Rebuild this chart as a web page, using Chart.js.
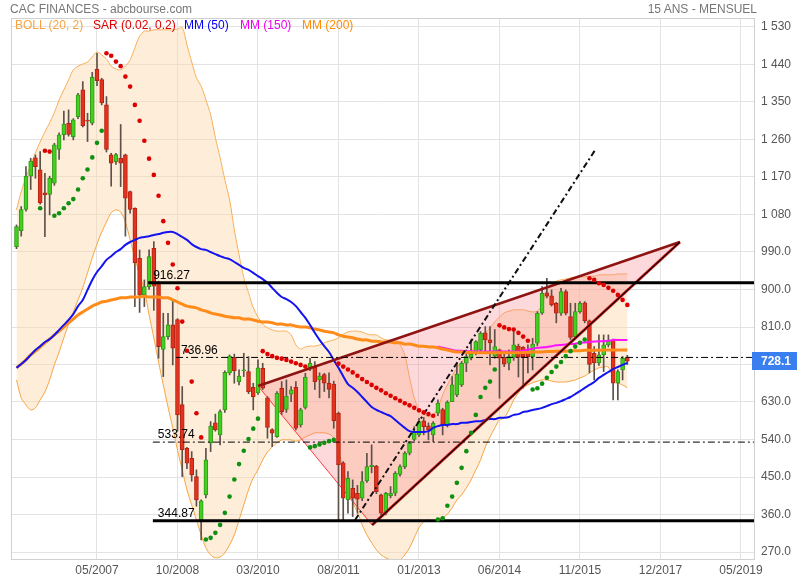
<!DOCTYPE html>
<html><head><meta charset="utf-8">
<script src="https://cdn.jsdelivr.net/npm/chart.js@4.4.1/dist/chart.umd.min.js"></script>
<style>
html,body{margin:0;padding:0;background:#fff;}
#wrap{position:relative;width:800px;height:580px;font-family:"Liberation Sans",Arial,sans-serif;}
canvas{position:absolute;left:0;top:0;}
.t{position:absolute;font-size:12px;white-space:nowrap;line-height:14px;}
</style></head><body>
<div id="wrap">
<canvas id="c" width="800" height="580"></canvas>
<div class="t" style="left:10px;top:2px;color:#777">CAC FINANCES - abcbourse.com</div>
<div class="t" style="right:43px;top:2px;color:#777">15 ANS - MENSUEL</div>
<div class="t" style="left:15px;top:18px;color:#f5a442">BOLL (20, 2)</div>
<div class="t" style="left:93px;top:18px;color:#dd0000">SAR (0.02, 0.2)</div>
<div class="t" style="left:184px;top:18px;color:#0000ee">MM (50)</div>
<div class="t" style="left:240px;top:18px;color:#ee00ee">MM (150)</div>
<div class="t" style="left:302px;top:18px;color:#ff8c00">MM (200)</div>
</div>
<script>
// ---- data (monthly candles, index 0 = 12/2005) ----
const opens = [1003,1041,1092,1172,1216,1187,1132,1128,1155,1236,1271,1299,1267,1315,1379,1305,1299,1429,1404,1343,
1223,1207,1215,1223,1135,1095,975,887,907,999,916,756,787,815,828,624,519,495,451,347,
407,532,580,551,611,700,737,679,705,703,665,652,711,640,564,547,663,612,649,665,
575,617,709,715,683,696,675,673,603,484,395,423,411,399,441,475,476,407,363,405,
411,456,475,507,540,551,585,573,551,603,612,575,631,647,671,723,735,747,755,796,
779,740,755,737,723,737,764,761,753,739,771,844,892,885,867,843,895,835,787,847,
868,825,747,724,743,767,779,675,707,738];
const highs = [1055,1099,1195,1215,1223,1231,1179,1172,1251,1276,1328,1331,1310,1371,1399,1323,1421,1467,1407,1363,
1227,1227,1296,1225,1136,1096,995,923,995,1015,920,843,843,875,830,667,521,511,467,395,
519,583,601,611,705,743,745,707,747,739,675,731,723,643,566,655,679,683,667,679,
615,699,735,727,700,699,700,680,606,487,463,443,430,463,507,527,478,409,413,427,
463,479,511,535,571,591,593,580,583,635,615,633,691,723,727,755,779,777,799,811,
811,804,757,751,755,799,769,763,767,783,847,907,927,899,869,903,899,867,867,871,
871,827,763,791,791,791,781,707,739,742];
const lows = [998,1028,1088,1140,1167,1105,1027,1079,1150,1212,1259,1268,1259,1310,1290,1255,1295,1389,1343,1230,
1148,1200,1147,1028,1083,859,845,859,900,850,735,691,780,719,560,451,470,440,380,299,
400,511,560,527,605,695,675,671,691,650,611,648,660,543,523,545,600,605,631,563,
570,613,705,660,640,655,640,567,347,347,363,355,363,393,437,460,410,358,359,400,
405,452,470,503,537,547,551,539,535,597,551,570,631,643,667,703,731,743,750,750,
719,735,639,715,707,730,690,663,700,707,765,840,880,860,820,838,839,780,783,843,
820,700,683,718,703,762,635,635,683,720];
const closes = [1051,1092,1172,1208,1195,1108,1127,1167,1247,1271,1297,1272,1307,1367,1293,1304,1409,1401,1348,1236,
1203,1224,1203,1119,1092,964,887,907,979,908,763,787,815,759,599,515,483,455,395,393,
491,572,563,607,701,740,705,692,706,655,643,712,663,569,555,651,607,644,659,567,
611,689,723,679,692,675,660,585,479,399,447,399,397,439,475,478,415,363,411,411,
459,475,507,531,559,583,571,563,579,627,575,629,671,697,723,739,745,775,795,779,
772,763,735,721,739,767,737,739,739,769,843,891,884,863,843,895,843,785,847,867,
825,720,724,743,767,777,675,703,735,728.1];
const bollUpper = [1091,1134,1168,1199,1228,1254,1278,1300,1324,1355,1379,1403,1427,1436,1441,1446,1458,1470,1463,1453,
1436,1429,1427,1436,1451,1480,1508,1520,1520,1523,1523,1523,1523,1523,1525,1528,1487,1446,1408,1388,
1355,1319,1264,1216,1163,1115,1043,983,928,892,856,834,817,808,803,800,800,800,791,767,
757,762,764,764,767,772,776,779,784,793,798,800,800,798,793,791,791,784,779,779,
779,767,743,688,640,611,601,594,599,616,647,671,692,712,726,738,750,767,784,796,
808,822,834,844,848,851,851,851,848,846,848,863,899,913,920,923,925,928,930,930,
930,932,932,935,935,935,935,937,937,937];
const bollLower = [683,640,623,611,616,635,654,683,719,750,784,817,846,875,904,940,976,1009,1038,1062,
1084,1091,1086,1062,1019,976,935,899,839,784,726,671,618,568,515,467,419,383,347,311,
280,263,256,258,268,287,311,347,383,419,448,467,491,510,522,532,539,539,539,536,
539,546,551,556,556,556,553,544,515,467,424,388,366,335,311,292,275,263,256,251,
248,251,263,280,304,328,342,347,344,347,352,361,376,395,407,424,443,467,491,522,
546,568,587,592,611,635,652,664,671,676,680,683,683,680,678,678,678,680,683,688,
692,700,707,712,714,714,688,676,671,664];
const mm50 = [712,721,731,743,755,764,774,781,791,803,815,827,841,860,875,899,923,942,956,971,
980,990,997,1007,1014,1019,1024,1026,1028,1031,1033,1036,1038,1038,1033,1026,1019,1009,1002,997,
995,990,985,980,976,973,966,959,952,947,940,932,925,916,904,892,882,877,870,860,
846,832,815,796,779,764,750,731,712,692,673,664,654,642,630,618,611,606,601,596,
587,577,568,560,558,558,558,560,568,572,575,575,577,577,580,580,582,584,584,587,
589,589,592,592,594,599,601,606,608,611,613,616,620,625,628,632,637,642,649,656,
664,671,678,688,695,702,709,714,719,724];
const mm150 = [null,null,null,null,null,null,null,null,null,null,null,null,null,null,null,null,null,null,null,null,
null,null,null,null,null,null,null,null,null,null,null,null,null,null,null,null,null,null,null,null,
null,null,null,null,null,null,null,null,null,null,null,null,null,null,null,null,null,null,null,null,
null,null,null,null,null,null,null,null,null,null,null,null,null,null,null,null,null,null,null,null,
null,null,null,null,null,null,null,null,null,763,760,758,755,753,753,752,752,751,751,751,
751,751,751,751,751,751,751,753,756,758,760,761,762,764,766,767,768,769,770,772,
773,774,775,776,776,777,779,779,779,779];
const mm200 = [712,721,731,743,752,762,772,781,791,800,810,820,829,839,846,853,860,865,870,872,
875,877,880,880,882,882,882,884,882,882,882,880,880,875,870,865,860,858,856,851,
848,844,841,839,836,834,832,832,829,829,827,824,822,822,820,817,817,815,815,812,
810,810,808,805,803,800,798,796,791,788,786,784,781,779,779,776,776,774,774,774,
772,772,769,769,767,764,764,762,762,760,757,755,752,750,750,749,749,748,748,748,
748,748,748,748,748,748,748,749,749,750,750,750,751,751,752,752,752,753,753,753,
754,754,754,754,755,755,755,755,755,755];
const sarAbove = [null,null,null,null,null,null,1233,1231,null,null,
null,null,null,null,null,null,null,null,null,1467,
1461,1447,1436,1411,1387,1343,1305,1257,1214,1175,
1125,1064,1012,960,903,823,753,679,603,545,
null,null,null,null,null,null,null,null,null,null,
null,null,752,745,740,736,734,731,727,723,
719,715,null,null,null,null,null,null,722,715,
708,701,693,685,678,671,664,658,651,645,
639,633,627,622,616,610,605,601,597,null,
null,null,null,null,null,null,null,null,null,null,
null,null,814,809,805,804,796,787,777,null,
null,null,null,null,null,null,null,null,null,null,
null,927,923,915,911,904,897,887,875,863];
const sarBelow = [null,null,null,null,null,1095,null,null,1077,1083,
1095,1107,1117,1140,1167,1188,1217,1252,1281,null,
null,null,null,null,null,null,null,null,null,null,
null,null,null,null,null,null,null,null,null,null,
300,304,316,335,364,403,444,481,513,541,
566,590,null,null,null,null,null,null,null,null,
null,null,521,524,528,532,536,539,null,null,
null,null,null,null,null,null,null,null,null,null,
null,null,null,null,null,null,null,null,null,348,
351,381,403,436,472,512,556,599,642,664,
679,708,null,null,null,null,null,null,null,660,
663,674,688,702,715,726,740,752,763,772,
780,null,null,null,null,null,null,null,null,null];
// drawn objects (in data units: month index, price)
const triIdx = [51.0, 75.1, 140.1];
const triVal = [668.4, 334.8, 1014];
const dashIdx = [71.5, 122.2];
const dashVal = [346.8, 1234.8];
const levelValues = [916.27, 736.96, 533.74, 344.87];
const levelFrom = [27.8, 33.7, 28.8, 28.8];
// axes
const xTickIdx = [17, 34, 51, 68, 85, 102, 119, 136, 153];
const xTickLabels = ['05/2007','10/2008','03/2010','08/2011','01/2013','06/2014','11/2015','12/2017','05/2019'];
const yTicks = [270,360,450,540,630,720,810,900,990,1080,1170,1260,1350,1440,1530];

const XMIN = -1.16, XMAX = 155.75, YMIN = 253.2, YMAX = 1551.6;
const FONT = '"Liberation Sans", Arial, sans-serif';
Chart.defaults.font.family = FONT;
Chart.defaults.font.size = 12;
Chart.defaults.color = '#555';

const pts = arr => arr.map((v, i) => ({x: i, y: v}));
const isUp = i => closes[i] >= opens[i];
const lineDs = (data, color, width, order, extra) => Object.assign({
  type: 'line', data, borderColor: color, borderWidth: width, pointRadius: 0,
  fill: false, tension: 0.3, order
}, extra || {});

const triPts = triIdx.map((x, k) => ({x, y: triVal[k]}));
triPts.push({x: triIdx[0], y: triVal[0]});

const datasets = [
  lineDs(pts(bollUpper), '#f7a445', 1, 20),
  lineDs(pts(bollLower), '#f7a445', 1, 19, {fill: '-1', backgroundColor: 'rgba(250,215,170,0.45)'}),
  lineDs(triPts, 'rgba(255,40,40,0.9)', 1, 18, {fill: 'shape', backgroundColor: 'rgba(250,120,130,0.28)', tension: 0}),
  {type: 'bar', data: closes.map((c, i) => ({x: i, y: [lows[i], highs[i]]})), backgroundColor: '#5d5048',
   barThickness: 1, grouped: false, order: 12, minBarLength: 1},
  {type: 'bar', data: closes.map((c, i) => ({x: i, y: [opens[i], c]})),
   backgroundColor: ctx => isUp(ctx.dataIndex) ? '#43cf1f' : '#e3321d',
   borderColor: ctx => isUp(ctx.dataIndex) ? '#2f9a16' : '#b52212',
   borderWidth: 1, borderSkipped: false, barThickness: 4, grouped: false, order: 11, minBarLength: 1},
  lineDs(pts(mm150), '#ff10ff', 2, 8),
  lineDs(pts(mm200), '#ff8c1a', 3, 7),
  lineDs(pts(mm50), '#1414f0', 2, 6),
  lineDs([{x: triIdx[0], y: triVal[0]}, {x: triIdx[2], y: triVal[2]}], '#8e1414', 2.5, 5, {tension: 0}),
  lineDs([{x: triIdx[1], y: triVal[1]}, {x: triIdx[2], y: triVal[2]}], '#d42020', 3, 5, {tension: 0}),
  lineDs([{x: triIdx[1], y: triVal[1]}, {x: triIdx[2], y: triVal[2]}], '#1a0000', 1.2, 4, {tension: 0}),
  lineDs(dashIdx.map((x, k) => ({x, y: dashVal[k]})), '#111', 2, 3, {tension: 0, borderDash: [6, 3, 2, 3]}),
];
levelValues.forEach((v, k) => {
  const solid = (k === 0 || k === 3);
  datasets.push(lineDs([{x: levelFrom[k], y: v}, {x: XMAX, y: v}], '#000', solid ? 3 : 1, 2,
    {tension: 0, borderDash: solid ? [] : [7, 3, 2, 3]}));
});
datasets.push({type: 'scatter', data: pts(sarAbove), backgroundColor: '#dd0000', borderWidth: 0, pointRadius: 2.3, showLine: false, order: 1});
datasets.push({type: 'scatter', data: pts(sarBelow), backgroundColor: '#109010', borderWidth: 0, pointRadius: 2.3, showLine: false, order: 1});

const overlay = {
  id: 'overlay',
  afterDraw(chart) {
    const {ctx, chartArea: a, scales: {x, y}} = chart;
    ctx.save();
    ctx.strokeStyle = '#d0d0d0'; ctx.lineWidth = 1;
    ctx.strokeRect(a.left + 0.5, a.top + 0.5, a.right - a.left, a.bottom - a.top);
    ctx.font = '12px ' + FONT; ctx.fillStyle = '#000'; ctx.textBaseline = 'bottom'; ctx.textAlign = 'left';
    levelValues.forEach((v, k) => ctx.fillText(v.toFixed(2), x.getPixelForValue(levelFrom[k]) + 5, y.getPixelForValue(v) - 1));
    const last = closes[closes.length - 1];
    const py = y.getPixelForValue(last);
    ctx.fillStyle = '#3a7ff0'; ctx.fillRect(a.right - 2, Math.round(py) - 9, 45, 18);
    ctx.fillStyle = '#fff'; ctx.font = 'bold 12px ' + FONT; ctx.textBaseline = 'middle';
    ctx.fillText(last.toFixed(1), a.right + 7, py + 1);
    ctx.restore();
  }
};

new Chart(document.getElementById('c'), {
  type: 'line',
  data: {datasets},
  plugins: [overlay],
  options: {
    responsive: false, animation: false, devicePixelRatio: 1, events: [],
    layout: {padding: {left: 11, top: 18, right: 0, bottom: 0}},
    plugins: {legend: {display: false}, tooltip: {enabled: false}, title: {display: false}},
    scales: {
      x: {type: 'linear', position: 'bottom', min: XMIN, max: XMAX, offset: false,
        afterBuildTicks: s => { s.ticks = xTickIdx.map(v => ({value: v})); },
        afterFit: s => { s.height = 21; },
        ticks: {autoSkip: false, maxRotation: 0, padding: 4, color: '#555',
          callback: v => { const k = xTickIdx.indexOf(v); return k >= 0 ? xTickLabels[k] : ''; }},
        grid: {color: '#e3e3e3', drawTicks: false, offset: false},
        border: {color: '#d0d0d0'}},
      y: {type: 'linear', position: 'right', min: YMIN, max: YMAX,
        afterBuildTicks: s => { s.ticks = yTicks.map(v => ({value: v})); },
        afterFit: s => { s.width = 46; },
        ticks: {padding: 7, color: '#555',
          callback: v => v >= 1000 ? Math.floor(v / 1000) + ' ' + String(v % 1000).padStart(3, '0') : v.toFixed(1)},
        grid: {color: '#e3e3e3', drawTicks: false},
        border: {color: '#d0d0d0'}}
    }
  }
});
</script>
</body></html>
